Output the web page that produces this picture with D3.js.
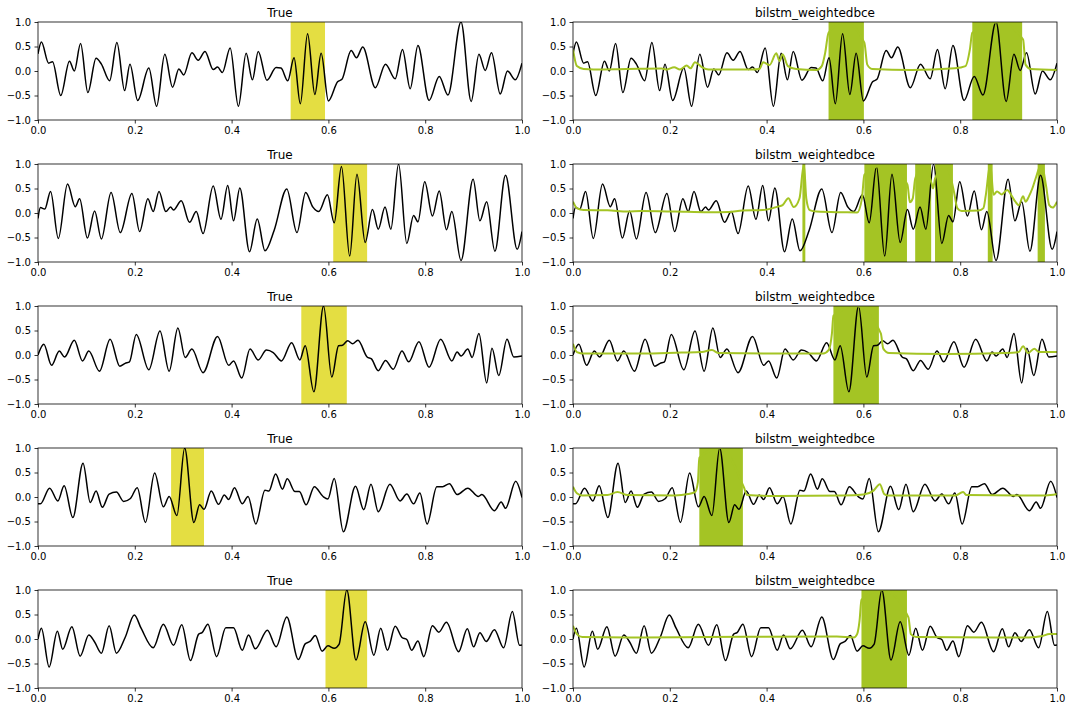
<!DOCTYPE html>
<html><head><meta charset="utf-8">
<script src="https://cdn.jsdelivr.net/npm/d3@7"></script>
<style>body{margin:0;background:#fff} text{font-family:"DejaVu Sans",sans-serif}</style>
</head><body><svg id="c" width="1072" height="712"></svg>
<script>
const panelTitles = ["True", "bilstm_weightedbce"];
const xTicks = [0, 0.2, 0.4, 0.6, 0.8, 1.0];
const yTicks = [-1.0, -0.5, 0.0, 0.5, 1.0];

const signal1 = [[0,0.35],[0.007,0.59],[0.022,0.16],[0.03,0.19],[0.047,-0.5],[0.065,0.2],[0.075,0.0],[0.088,0.56],[0.103,-0.44],[0.12,0.26],[0.131,0.14],[0.148,-0.2],[0.163,0.58],[0.179,-0.4],[0.19,0.14],[0.206,-0.6],[0.229,0.06],[0.245,-0.72],[0.262,0.34],[0.278,-0.33],[0.291,0.04],[0.301,-0.08],[0.318,0.37],[0.331,0.22],[0.345,0.4],[0.362,0.03],[0.371,0.08],[0.381,-0.03],[0.397,0.47],[0.414,-0.72],[0.43,0.36],[0.443,-0.18],[0.455,0.4],[0.473,-0.19],[0.492,0.07],[0.502,0.06],[0.516,-0.2],[0.529,0.27],[0.542,-0.67],[0.557,0.76],[0.572,-0.48],[0.585,0.36],[0.6,-0.61],[0.619,-0.22],[0.628,-0.17],[0.647,0.42],[0.658,0.27],[0.671,0.49],[0.697,-0.34],[0.718,0.14],[0.738,-0.16],[0.753,0.44],[0.769,-0.36],[0.785,0.52],[0.808,-0.6],[0.829,-0.11],[0.847,-0.49],[0.874,1.0],[0.895,-0.62],[0.911,0.34],[0.924,0.01],[0.937,0.37],[0.955,-0.47],[0.97,0.0],[0.986,-0.18],[1.0,0.16]];

const signal2 = [[0,-0.11],[0.005,0.11],[0.014,0.08],[0.026,0.44],[0.042,-0.52],[0.061,0.59],[0.077,0.13],[0.086,0.29],[0.102,-0.51],[0.117,0.04],[0.131,-0.53],[0.151,0.42],[0.17,-0.4],[0.194,0.4],[0.21,-0.38],[0.227,0.29],[0.238,0.03],[0.25,0.44],[0.264,0.03],[0.274,0.12],[0.28,0.06],[0.296,0.25],[0.313,-0.19],[0.327,0.03],[0.341,-0.42],[0.362,0.55],[0.378,-0.13],[0.392,0.56],[0.404,-0.16],[0.417,0.51],[0.437,-0.79],[0.453,-0.12],[0.469,-0.77],[0.488,-0.35],[0.514,0.49],[0.535,-0.4],[0.553,0.42],[0.568,0.12],[0.58,0.03],[0.598,0.37],[0.612,-0.2],[0.627,0.95],[0.644,-0.88],[0.659,0.79],[0.676,-0.6],[0.691,0.07],[0.703,-0.33],[0.717,0.12],[0.729,-0.33],[0.745,1.0],[0.762,-0.62],[0.776,-0.05],[0.785,-0.18],[0.799,0.64],[0.815,-0.06],[0.829,0.45],[0.844,-0.34],[0.855,0.03],[0.874,-0.97],[0.899,0.69],[0.913,-0.16],[0.927,0.23],[0.944,-0.78],[0.966,0.77],[0.99,-0.74],[1.0,-0.38]];

const signal3 = [[0,0.0],[0.012,0.22],[0.028,-0.21],[0.044,0.08],[0.055,-0.04],[0.075,0.3],[0.092,-0.12],[0.105,0.08],[0.127,-0.33],[0.149,0.32],[0.169,-0.23],[0.18,-0.17],[0.189,-0.14],[0.203,0.42],[0.229,-0.3],[0.252,0.49],[0.271,-0.33],[0.289,0.55],[0.304,-0.05],[0.318,0.12],[0.341,-0.36],[0.371,0.38],[0.394,-0.21],[0.404,-0.12],[0.421,-0.47],[0.438,0.12],[0.455,-0.1],[0.472,0.1],[0.486,0.05],[0.503,-0.12],[0.524,0.25],[0.541,-0.1],[0.552,0.19],[0.57,-0.75],[0.59,1.0],[0.607,-0.45],[0.621,0.19],[0.629,0.2],[0.64,0.29],[0.65,0.23],[0.661,0.3],[0.68,-0.04],[0.689,-0.08],[0.703,-0.32],[0.718,-0.11],[0.734,-0.29],[0.752,0.08],[0.766,-0.14],[0.787,0.27],[0.808,-0.25],[0.832,0.32],[0.855,-0.12],[0.866,0.06],[0.874,-0.02],[0.888,0.12],[0.897,-0.05],[0.911,0.44],[0.927,-0.57],[0.938,0.14],[0.952,-0.42],[0.969,0.32],[0.983,-0.04],[1.0,-0.02]];

const signal4 = [[0,-0.14],[0.005,-0.14],[0.024,0.18],[0.041,-0.08],[0.054,0.23],[0.072,-0.42],[0.093,0.69],[0.108,-0.11],[0.12,0.12],[0.133,-0.21],[0.147,0.06],[0.162,0.1],[0.177,-0.09],[0.191,-0.03],[0.205,0.19],[0.222,-0.52],[0.241,0.49],[0.259,-0.2],[0.271,0.01],[0.287,-0.38],[0.303,1.0],[0.322,-0.52],[0.334,-0.16],[0.343,-0.25],[0.358,0.12],[0.373,-0.15],[0.385,0.04],[0.394,-0.05],[0.406,0.19],[0.422,-0.14],[0.434,0.01],[0.45,-0.55],[0.469,0.14],[0.477,0.12],[0.491,0.47],[0.505,0.16],[0.515,0.37],[0.531,0.11],[0.54,0.11],[0.554,-0.16],[0.571,0.21],[0.589,0.01],[0.599,-0.04],[0.612,0.38],[0.631,-0.71],[0.656,0.22],[0.673,-0.26],[0.688,0.26],[0.703,-0.3],[0.727,0.26],[0.748,-0.08],[0.762,0.06],[0.776,-0.14],[0.789,0.08],[0.804,-0.55],[0.824,0.21],[0.836,0.21],[0.85,0.27],[0.866,0.05],[0.888,0.18],[0.91,0.01],[0.917,0.05],[0.943,-0.28],[0.957,-0.1],[0.966,-0.23],[0.987,0.32],[1.0,-0.01]];

const signal5 = [[0,0.0],[0.007,0.22],[0.023,-0.57],[0.04,0.16],[0.051,-0.21],[0.07,0.25],[0.087,-0.35],[0.105,0.08],[0.117,-0.06],[0.131,-0.29],[0.147,0.27],[0.162,-0.29],[0.18,0.03],[0.199,0.49],[0.213,0.22],[0.238,-0.18],[0.259,0.3],[0.28,-0.13],[0.297,0.29],[0.315,-0.44],[0.332,0.1],[0.339,0.13],[0.351,0.3],[0.369,-0.36],[0.388,0.23],[0.404,0.23],[0.422,-0.23],[0.435,0.08],[0.449,-0.2],[0.474,0.18],[0.492,-0.16],[0.514,0.45],[0.538,-0.42],[0.552,-0.1],[0.562,-0.05],[0.573,0.07],[0.587,-0.25],[0.599,-0.14],[0.612,-0.19],[0.622,-0.11],[0.638,1.0],[0.657,-0.43],[0.676,0.35],[0.694,-0.33],[0.708,0.22],[0.722,-0.23],[0.738,0.26],[0.752,0.03],[0.762,-0.01],[0.772,-0.23],[0.785,-0.04],[0.797,-0.36],[0.815,0.27],[0.828,0.14],[0.844,0.34],[0.869,-0.26],[0.887,0.21],[0.9,-0.16],[0.913,0.13],[0.926,-0.05],[0.943,0.19],[0.962,-0.18],[0.98,0.56],[0.995,-0.13],[1.0,-0.12]];

const pred1 = [[0,0.44],[0.008,0.1],[0.022,0.04],[0.043,0.03],[0.11,0.04],[0.183,0.05],[0.193,0.03],[0.209,0.075],[0.221,0.03],[0.235,0.11],[0.243,0.055],[0.252,0.18],[0.266,0.08],[0.28,0.03],[0.37,0.03],[0.385,0.04],[0.393,0.18],[0.406,0.12],[0.42,0.36],[0.427,0.2],[0.433,0.34],[0.444,0.1],[0.461,0.04],[0.503,0.02],[0.514,0.1],[0.521,0.37],[0.528,0.78],[0.56,1.0],[0.602,0.58],[0.608,0.13],[0.618,0.04],[0.7,0.02],[0.789,0.055],[0.811,0.1],[0.82,0.44],[0.825,0.78],[0.88,1.0],[0.93,0.64],[0.935,0.13],[0.946,0.04],[1.0,0.02]];

const pred2 = [[0,0.23],[0.008,0.1],[0.022,0.06],[0.071,0.055],[0.113,0.03],[0.14,0.04],[0.21,0.03],[0.28,0.015],[0.322,0.02],[0.35,0.05],[0.392,0.06],[0.413,0.1],[0.423,0.13],[0.433,0.16],[0.445,0.3],[0.456,0.12],[0.468,0.3],[0.477,1.0],[0.482,0.3],[0.489,0.06],[0.503,0.03],[0.559,0.015],[0.587,0.01],[0.597,0.3],[0.602,0.78],[0.65,1.0],[0.691,0.58],[0.696,0.22],[0.702,0.3],[0.707,0.7],[0.725,1.0],[0.741,0.6],[0.744,0.5],[0.748,0.7],[0.77,1.0],[0.787,0.44],[0.794,0.1],[0.803,0.04],[0.838,0.05],[0.848,0.1],[0.853,0.37],[0.862,1.0],[0.869,0.37],[0.876,0.44],[0.886,0.38],[0.897,0.47],[0.907,0.34],[0.914,0.23],[0.921,0.16],[0.93,0.34],[0.935,0.23],[0.942,0.34],[0.949,0.5],[0.956,0.71],[0.968,1.0],[0.977,0.58],[0.984,0.16],[0.991,0.11],[1.0,0.23]];

const pred3 = [[0,0.23],[0.008,0.06],[0.022,0.03],[0.141,0.03],[0.224,0.05],[0.266,0.06],[0.287,0.1],[0.301,0.04],[0.42,0.03],[0.517,0.03],[0.528,0.1],[0.535,0.44],[0.538,0.8],[0.585,1.0],[0.636,0.44],[0.641,0.13],[0.653,0.04],[0.768,0.02],[0.893,0.04],[0.921,0.06],[0.93,0.18],[0.94,0.04],[0.953,0.13],[0.963,0.06],[1.0,0.06]];

const pred4 = [[0,0.21],[0.008,0.075],[0.019,0.03],[0.071,0.04],[0.092,0.1],[0.113,0.04],[0.21,0.03],[0.238,0.06],[0.252,0.1],[0.258,0.3],[0.261,0.8],[0.305,1.0],[0.353,0.2],[0.36,0.04],[0.42,0.02],[0.559,0.03],[0.6,0.05],[0.621,0.13],[0.634,0.26],[0.643,0.06],[0.65,0.03],[0.789,0.03],[0.806,0.1],[0.813,0.04],[0.977,0.03],[1.0,0.06]];

const pred5 = [[0,0.27],[0.008,0.1],[0.019,0.04],[0.141,0.03],[0.28,0.04],[0.545,0.05],[0.58,0.03],[0.587,0.1],[0.592,0.37],[0.596,0.8],[0.64,1.0],[0.693,0.44],[0.698,0.1],[0.709,0.04],[0.942,0.03],[0.97,0.06],[0.984,0.1],[1.0,0.1]];

const trueRegions = [[[0.522,0.593]],[[0.61,0.68]],[[0.544,0.638]],[[0.275,0.343]],[[0.594,0.68]]];
const predRegions = [
  [[0.528,0.601],[0.825,0.928]],
  [[0.474,0.48],[0.602,0.69],[0.707,0.74],[0.748,0.785],[0.857,0.867],[0.96,0.975]],
  [[0.538,0.632]],
  [[0.261,0.351]],
  [[0.596,0.69]]
];

const signals = [signal1, signal2, signal3, signal4, signal5];
const preds = [pred1, pred2, pred3, pred4, pred5];

const YELLOW = "#e4de42", GREEN = "#a4c424";
const rowTops = [22, 164, 306, 448, 590];
const colLefts = [38, 573];
const W = 484, H = 98;

const svg = d3.select("#c");
svg.append("rect").attr("width",1072).attr("height",712).attr("fill","#fff");
const x = d3.scaleLinear().domain([0,1]).range([0,W]);
const y = d3.scaleLinear().domain([-1,1]).range([H,0]);
const line = d3.line().x(d=>x(d[0])).y(d=>y(d[1])).curve(d3.curveMonotoneX);

const defs = svg.append("defs");
defs.append("clipPath").attr("id","clip").append("rect").attr("width",W).attr("height",H);

for (let r = 0; r < 5; r++) {
  for (let c = 0; c < 2; c++) {
    const g = svg.append("g").attr("transform",`translate(${colLefts[c]},${rowTops[r]})`);
    const inner = g.append("g").attr("clip-path","url(#clip)");
    const regions = c === 0 ? trueRegions[r] : predRegions[r];
    const col = c === 0 ? YELLOW : GREEN;
    inner.selectAll("rect.reg").data(regions).join("rect").attr("class","reg")
      .attr("x",d=>x(d[0])).attr("width",d=>x(d[1])-x(d[0]))
      .attr("y",y(1)).attr("height",y(-1)-y(1)).attr("fill",col);
    inner.append("path").datum(signals[r]).attr("d",line)
      .attr("fill","none").attr("stroke","#000").attr("stroke-width",1.5);
    if (c === 1) {
      inner.append("path").datum(preds[r]).attr("d",line)
        .attr("fill","none").attr("stroke",GREEN).attr("stroke-width",2);
    }
    const fmt = d3.format(".1f");
    const ax = g.append("g").attr("transform",`translate(0,${H})`)
      .call(d3.axisBottom(x).tickValues(xTicks).tickFormat(fmt).tickSize(3.5).tickPadding(3.5));
    const ay = g.append("g")
      .call(d3.axisLeft(y).tickValues(yTicks).tickFormat(fmt).tickSize(3.5).tickPadding(3.5));
    [ax, ay].forEach(a => {
      a.select(".domain").remove();
      a.selectAll("text").attr("font-size",10).attr("fill","#000").attr("font-family","DejaVu Sans");
      a.selectAll("line").attr("stroke","#000").attr("stroke-width",0.8);
    });
    g.append("rect").attr("width",W).attr("height",H).attr("fill","none")
      .attr("stroke","#000").attr("stroke-width",0.8);
    g.append("text").attr("x",W/2).attr("y",-5).attr("text-anchor","middle")
      .attr("font-size",12).attr("fill","#000").text(panelTitles[c]);
  }
}
</script></body></html>
